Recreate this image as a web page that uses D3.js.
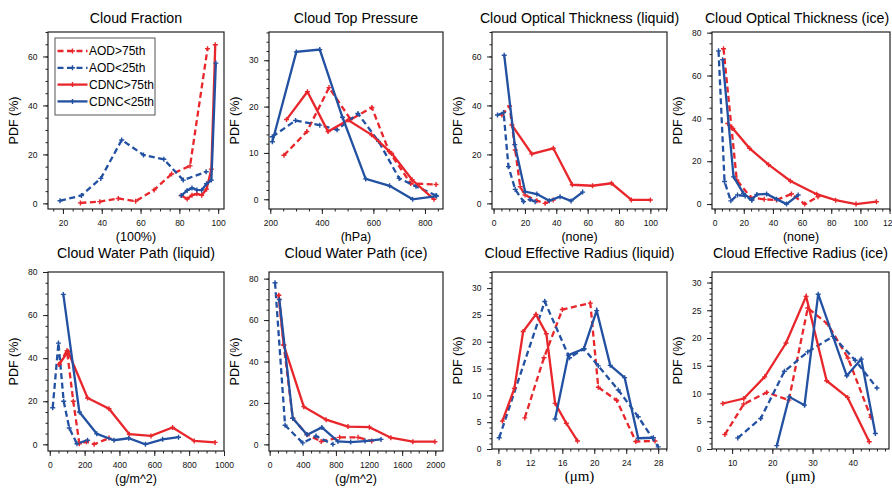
<!DOCTYPE html>
<html>
<head>
<meta charset="utf-8">
<script src="https://cdn.jsdelivr.net/npm/d3@7"></script>
<style>
body { margin: 0; background: #fff; }
svg { display: block; font-family: "Liberation Sans", Arial, Helvetica, sans-serif; }
.tick text { font-size: 8.5px; fill: #111; }
.tick line { stroke: #222; }
</style>
</head>
<body>
<svg id="chart" width="892" height="493"></svg>
<script>
// legend names, same order as the series inside each panel
var seriesNames = ["AOD>75th", "AOD<25th", "CDNC>75th", "CDNC<25th"];

// Cloud Fraction
var cfAodHigh = [[29,0.2],[39,0.7],[48.5,2.0],[57.5,0.9],[67,5.5],[76,12],[85.5,15.3],[94.5,63.2]];
var cfAodLow = [[18.5,1.1],[29.5,3.2],[39.5,10.2],[50.3,25.9],[61.5,19.8],[72,18],[82,9.5],[93.8,12.9]];
var cfCdncHigh = [[81,3.2],[84,1.8],[86.5,3.3],[89,3.9],[91.5,3.3],[94,5.8],[96.5,14],[98.5,64.8]];
var cfCdncLow = [[81,3.2],[84,5.3],[86.5,6.3],[89,5.5],[91.5,5.4],[94,8],[96.5,9.5],[98.8,57.3]];

// Cloud Top Pressure
var ctpAodHigh = [[253,9.5],[342,14.6],[428,24.1],[512,17.2],[594,19.8],[661,10.3],[745,3.4],[843,3.2]];
var ctpAodLow = [[208,13.5],[298,17],[392,16],[459,15],[540,18.5],[620,12.5],[700,4.5],[765,2.8],[843,0.8]];
var ctpCdncHigh = [[263,17.2],[344,23.2],[424,14.6],[502,17.1],[593,13.9],[671,9.9],[750,4.2],[835,0]];
var ctpCdncLow = [[208,12.4],[301,31.8],[392,32.3],[480,17.7],[570,4.4],[663,2.9],[752,0],[845,0.7]];

// Cloud Optical Thickness (liquid)
var cotlAodHigh = [[5.3,36.1],[10.2,39.8],[13.8,21.8],[17,6.8],[20.1,3.4],[27.6,1.1],[32.9,0],[38,1.4]];
var cotlAodLow = [[2.5,36.1],[6.4,37.1],[9.5,15],[13.8,5.7],[19.1,0.7],[23.3,1.6],[26.5,0.7]];
var cotlCdncHigh = [[11.7,32],[24.4,20.2],[38.1,22.5],[50.2,7.6],[63.1,7.2],[75.2,8.2],[87.9,1.4],[100,1.4]];
var cotlCdncLow = [[6.8,60.5],[13.5,24],[20.1,4.8],[27.6,3.8],[35.6,1.1],[42.4,2.7],[49.4,1],[56.8,4.6]];

// Cloud Optical Thickness (ice)
var cotiAodHigh = [[6.1,72.5],[15.2,11.2],[24.8,3.1],[34,2.2],[42.5,1.9],[52.7,4.7],[61.8,0],[70.9,3.4]];
var cotiAodLow = [[2.7,71.5],[6.8,10.5],[11.1,1.5],[15.7,4.2],[21,3.8],[25.5,1.8]];
var cotiCdncHigh = [[9,37.6],[12.5,35.3],[24,26],[37,18.4],[52,10.8],[70,4.6],[83,1.8],[97,0],[111,1.1]];
var cotiCdncLow = [[5.5,67.4],[13,12.7],[19.8,5],[25.5,2],[29,4.5],[35.7,4.7],[42.5,2.3],[49.3,0],[57.3,4.2]];

// Cloud Water Path (liquid)
var cwplAodHigh = [[53,37],[99,43.5],[135,20],[170,0.3],[210,1.2],[255,0],[340,2.9]];
var cwplAodLow = [[17,17],[50,47],[80,20],[112,7.6],[156,0.3],[217,1.9]];
var cwplCdncHigh = [[55,37.2],[105,43.1],[217,21.5],[340,16.5],[457,4.7],[581,3.9],[705,7.8],[829,1.6],[949,0.9]];
var cwplCdncLow = [[78,69.6],[170,15],[270,4.9],[369,1.9],[453,2.8],[549,0],[648,2.3],[739,3.3]];

// Cloud Water Path (ice)
var cwpiAodHigh = [[109,72],[170,48],[279,12.6],[450,4.8],[622,1.4],[845,3.4],[1067,3.4],[1232,1.6]];
var cwpiAodLow = [[65,78],[186,9.2],[400,0.7],[560,4],[764,0]];
var cwpiCdncHigh = [[109,71.9],[170,47.9],[412,18.2],[682,11.9],[945,8.6],[1204,8.3],[1463,3.2],[1729,1.3],[1995,1.3]];
var cwpiCdncLow = [[117,69.9],[279,12.6],[452,4.6],[630,8.2],[824,1.4],[978,1.1],[1152,1.6],[1345,2.4]];

// Cloud Effective Radius (liquid)
var cerlAodHigh = [[11.3,5.8],[13.7,17],[16,26],[19.5,27.2],[20.5,11.5],[22.8,9.1],[25.2,1.4],[27.6,1.5]];
var cerlAodLow = [[8.1,2.1],[13.8,27.5],[16.9,17],[18.7,18.7],[20.5,15.5],[23,11],[25.5,6],[28,0.4]];
var cerlCdncHigh = [[8.5,5.2],[10,11.3],[11.1,21.9],[12.7,25.1],[14,21.5],[15.1,8.5],[16.5,4.8],[17.9,1.5]];
var cerlCdncLow = [[15.1,5.6],[16.75,17.5],[18.7,18.7],[20.3,25.8],[22,15.6],[23.8,13.3],[25.5,2],[27.4,2.1]];

// Cloud Effective Radius (ice)
var ceriAodHigh = [[8.2,2.6],[12.9,8.1],[18.6,10.2],[24.1,8.8],[28.8,25.4],[33.8,22.5],[38.8,16.4],[44.5,5.7]];
var ceriAodLow = [[11.4,2],[17.1,5.5],[23,14],[28.8,17.5],[35.1,20.3],[40.6,16],[46,11]];
var ceriCdncHigh = [[7.7,8.2],[12.9,9.1],[18.1,13],[23.4,19.1],[28.4,27.5],[33.5,12.3],[38.7,9.3],[44.1,1.3]];
var ceriCdncLow = [[21.1,0.6],[24.2,9.4],[28,7.9],[31.4,27.9],[38.5,13.2],[42.1,16.2],[45.6,2.8]];

var red = "#e8262b", blue = "#2351a2";
var styles = [
    {color: red, dash: "6,3.5"},
    {color: blue, dash: "6,3.5"},
    {color: red, dash: null},
    {color: blue, dash: null}
];

// box = [left, top, right, bottom]
var panels = [
    {title: "Cloud Fraction", xlab: "(100%)", box: [48, 32, 224, 209], xd: [12.3, 103], yd: [-2.3, 70],
        xt: [20, 100, 20], xm: 5, yt: [0, 60, 20], ym: 5, data: [cfAodHigh, cfAodLow, cfCdncHigh, cfCdncLow], legend: true},
    {title: "Cloud Top Pressure", xlab: "(hPa)", box: [269, 32, 443, 209], xd: [195, 870], yd: [-2.1, 36.1],
        xt: [200, 800, 200], xm: 50, yt: [0, 30, 10], ym: 2, data: [ctpAodHigh, ctpAodLow, ctpCdncHigh, ctpCdncLow]},
    {title: "Cloud Optical Thickness (liquid)", xlab: "(none)", box: [492, 32, 667, 209], xd: [-1, 110.6], yd: [-2.3, 70],
        xt: [0, 100, 20], xm: 5, yt: [0, 60, 20], ym: 5, data: [cotlAodHigh, cotlAodLow, cotlCdncHigh, cotlCdncLow]},
    {title: "Cloud Optical Thickness (ice)", xlab: "(none)", titleX: 797, box: [712, 32, 890, 209], xd: [-1.8, 120.3], yd: [-2.3, 80.3],
        xt: [0, 120, 20], xm: 5, yt: [0, 80, 20], ym: 5, data: [cotiAodHigh, cotiAodLow, cotiCdncHigh, cotiCdncLow]},
    {title: "Cloud Water Path (liquid)", xlab: "(g/m^2)", box: [48, 272, 224, 451], xd: [-10, 1000], yd: [-3.1, 80],
        xt: [0, 1000, 200], xm: 50, yt: [0, 80, 20], ym: 5, data: [cwplAodHigh, cwplAodLow, cwplCdncHigh, cwplCdncLow]},
    {title: "Cloud Water Path (ice)", xlab: "(g/m^2)", box: [269, 272, 443, 451], xd: [-8, 2093], yd: [-3.2, 83.2],
        xt: [0, 2000, 400], xm: 100, yt: [0, 80, 20], ym: 5, data: [cwpiAodHigh, cwpiAodLow, cwpiCdncHigh, cwpiCdncLow]},
    {title: "Cloud Effective Radius (liquid)", xlab: "(\u03bcm)", serif: true, box: [492, 272, 667, 449], xd: [7.2, 29.1], yd: [0, 33],
        xt: [8, 28, 4], xm: 1, yt: [0, 30, 5], ym: 1, data: [cerlAodHigh, cerlAodLow, cerlCdncHigh, cerlCdncLow]},
    {title: "Cloud Effective Radius (ice)", xlab: "(\u03bcm)", serif: true, box: [712, 272, 889, 449], xd: [5, 49], yd: [0, 31.9],
        xt: [10, 40, 10], xm: 2, yt: [0, 30, 5], ym: 1, data: [ceriAodHigh, ceriAodLow, ceriCdncHigh, ceriCdncLow]}
];

var svg = d3.select("#chart");

function steps(a, b, s) {
    return d3.range(a, b + s / 1000, s);
}

function marker(sel, color) {
    sel.append("path")
        .attr("d", "M-2.5,0H2.5M0,-2.5V2.5")
        .attr("stroke", color)
        .attr("stroke-width", 1.4)
        .attr("fill", "none");
}

panels.forEach(function(p, pi) {
    var l = p.box[0], t = p.box[1], r = p.box[2], b = p.box[3];
    var x = d3.scaleLinear().domain(p.xd).range([l, r]);
    var y = d3.scaleLinear().domain(p.yd).range([b, t]);
    var g = svg.append("g").attr("class", "panel");

    var xMinor = steps(p.xt[0], p.xd[1], p.xm).concat(d3.range(p.xt[0] - p.xm, p.xd[0], -p.xm))
        .filter(function(v) { return v >= p.xd[0] && v <= p.xd[1]; });
    var yMinor = steps(p.yt[0], p.yd[1], p.ym)
        .filter(function(v) { return v >= p.yd[0] && v <= p.yd[1]; });

    // minor ticks
    g.append("g").attr("transform", "translate(0," + b + ")")
        .call(d3.axisBottom(x).tickValues(xMinor).tickSize(2.5).tickFormat(""))
        .call(function(a) { a.select(".domain").remove(); });
    g.append("g").attr("transform", "translate(" + l + ",0)")
        .call(d3.axisLeft(y).tickValues(yMinor).tickSize(2.5).tickFormat(""))
        .call(function(a) { a.select(".domain").remove(); });

    // major ticks
    g.append("g").attr("transform", "translate(0," + b + ")")
        .call(d3.axisBottom(x).tickValues(steps(p.xt[0], p.xt[1], p.xt[2])).tickSize(5).tickPadding(6).tickFormat(d3.format("d")))
        .call(function(a) { a.select(".domain").remove(); });
    g.append("g").attr("transform", "translate(" + l + ",0)")
        .call(d3.axisLeft(y).tickValues(steps(p.yt[0], p.yt[1], p.yt[2])).tickSize(5).tickPadding(5.5).tickFormat(d3.format("d")))
        .call(function(a) { a.select(".domain").remove(); });
    g.selectAll(".tick line").attr("stroke-width", 1);
    g.selectAll(".tick text").attr("font-family", null).attr("font-size", null);

    var line = d3.line()
        .x(function(d) { return x(d[0]); })
        .y(function(d) { return y(d[1]); });

    p.data.forEach(function(s, si) {
        var st = styles[si];
        g.append("path")
            .datum(s)
            .attr("d", line)
            .attr("fill", "none")
            .attr("stroke", st.color)
            .attr("stroke-width", 2.3)
            .attr("stroke-dasharray", st.dash);
        g.selectAll(".m" + si)
            .data(s)
            .enter().append("g")
            .attr("class", "m" + si)
            .attr("transform", function(d) { return "translate(" + x(d[0]) + "," + y(d[1]) + ")"; })
            .call(marker, st.color);
    });

    // frame
    g.append("rect")
        .attr("x", l).attr("y", t)
        .attr("width", r - l).attr("height", b - t)
        .attr("fill", "none")
        .attr("stroke", "#222")
        .attr("stroke-width", 1.2);

    g.append("text")
        .attr("x", p.titleX || (l + r) / 2)
        .attr("y", pi < 4 ? 22.5 : 258)
        .attr("text-anchor", "middle")
        .attr("font-size", 14.2)
        .text(p.title);

    g.append("text")
        .attr("transform", "translate(" + (l - 30.5) + "," + ((t + b) / 2) + ") rotate(-90)")
        .attr("text-anchor", "middle")
        .attr("font-size", 12.5)
        .text("PDF (%)");

    g.append("text")
        .attr("x", (l + r) / 2)
        .attr("y", b + 32)
        .attr("text-anchor", "middle")
        .attr("font-size", p.serif ? 15 : 12.5)
        .attr("font-family", p.serif ? "'Liberation Serif', 'Times New Roman', serif" : null)
        .text(p.xlab);

    if (p.legend) {
        var lg = g.append("g");
        lg.append("rect")
            .attr("x", 55).attr("y", 38)
            .attr("width", 100).attr("height", 77)
            .attr("fill", "#fff")
            .attr("stroke", "#555")
            .attr("stroke-width", 1);
        seriesNames.forEach(function(n, i) {
            var yy = 51 + i * 16.8;
            lg.append("line")
                .attr("x1", 57.5).attr("x2", 87.5)
                .attr("y1", yy).attr("y2", yy)
                .attr("stroke", styles[i].color)
                .attr("stroke-width", 2.3)
                .attr("stroke-dasharray", styles[i].dash);
            lg.append("g").attr("transform", "translate(72.5," + yy + ")").call(marker, styles[i].color);
            lg.append("text")
                .attr("x", 89).attr("y", yy + 4.3)
                .attr("font-size", 12)
                .text(n);
        });
    }
});
</script>
</body>
</html>
